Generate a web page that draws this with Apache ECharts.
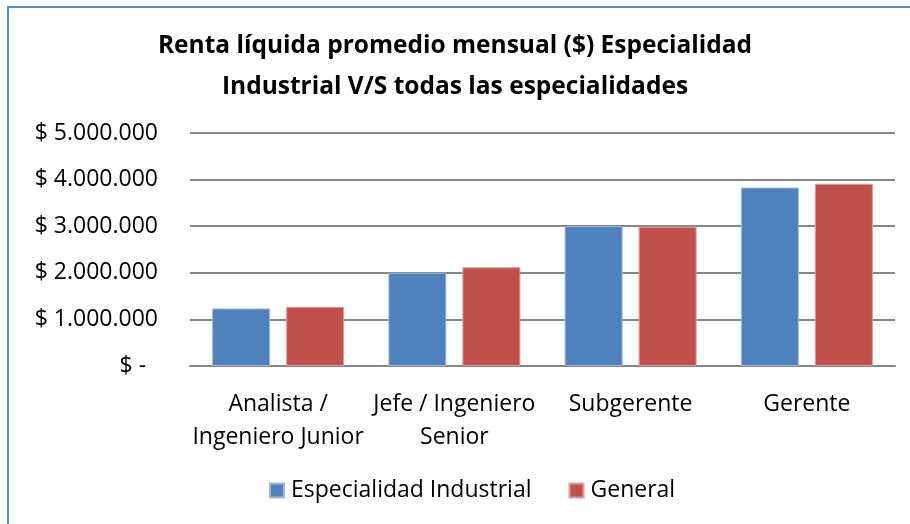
<!DOCTYPE html>
<html><head><meta charset="utf-8">
<script src="https://cdn.jsdelivr.net/npm/echarts@6/dist/echarts.min.js"></script>
<style>html,body{margin:0;padding:0;background:#fff}#c{width:910px;height:524px}</style>
</head><body><div id="c"></div>
<script>
const categories = ['Analista /\nIngeniero Junior', 'Jefe / Ingeniero\nSenior', 'Subgerente', 'Gerente'];
const industrial = [1235000, 2000000, 3000000, 3830000];
const general = [1270000, 2120000, 2990000, 3910000];
const seriesNames = ['Especialidad Industrial', 'General'];
const titleText = 'Renta líquida promedio mensual ($) Especialidad\nIndustrial V/S todas las especialidades';

const FONT = 'Open Sans';
function fmt(v){
  if (v === 0) return '$ -  ';
  return '$ ' + String(Math.round(v)).replace(/\B(?=(\d{3})+(?!\d))/g, '.');
}
const chart = echarts.init(document.getElementById('c'), null, {renderer:'canvas'});
chart.setOption({
  animation:false,
  backgroundColor:'#fff',
  textStyle:{fontFamily:FONT},
  title:{text:titleText, left:'center', top:21,
    textStyle:{fontFamily:FONT, fontWeight:'bold', fontSize:24.5, lineHeight:40.5, color:'#000'}},
  graphic:[{type:'rect', shape:{x:8, y:7, width:1000, height:600},
    style:{fill:'none', stroke:'#5B8BC8', lineWidth:2}}],
  legend:{bottom:17, left:264, itemWidth:14, itemHeight:14, itemGap:37,
    icon:'rect', textStyle:{fontFamily:FONT, fontSize:23, color:'#000', padding:[0,0,0,2]}},
  grid:{left:190, right:15, top:133, bottom:158, containLabel:false},
  xAxis:{type:'category', data:categories,
    axisLine:{show:true, lineStyle:{color:'#868686', width:2}},
    axisTick:{show:false},
    axisLabel:{fontFamily:FONT, fontSize:23, color:'#000', lineHeight:33, margin:22, interval:0}},
  yAxis:{type:'value', min:0, max:5000000, interval:1000000,
    axisLine:{show:false}, axisTick:{show:false},
    splitLine:{lineStyle:{color:'#868686', width:2}},
    axisLabel:{formatter:fmt, fontFamily:FONT, fontSize:23, color:'#000', margin:32}},
  series:[
    {name:seriesNames[0], type:'bar', data:industrial, barWidth:58, barGap:'27.6%',
      itemStyle:{color:'#4F81BD', borderColor:'#9EB8DC', borderWidth:1}},
    {name:seriesNames[1], type:'bar', data:general, barWidth:58, barGap:'27.6%',
      itemStyle:{color:'#C0504D', borderColor:'#DC9E9C', borderWidth:1}}
  ]
});
</script></body></html>
